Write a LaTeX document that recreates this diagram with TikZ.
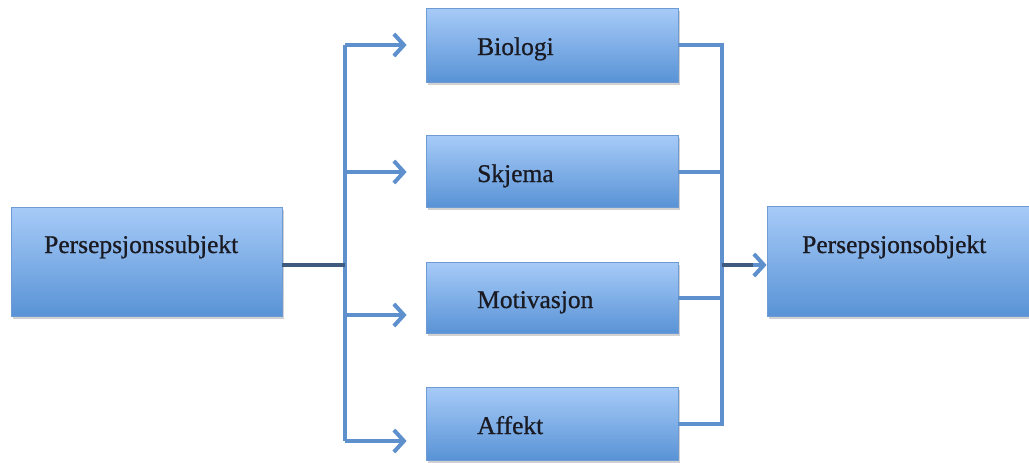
\documentclass[tikz,border=0pt]{standalone}
\usepackage{fontspec}
\setmainfont{Liberation Serif}
\newfontfamily\lblfont{Liberation Serif}[FakeBold=0.8]
\usetikzlibrary{arrows.meta,shadows,calc}
\definecolor{boxtop}{HTML}{A7CBF8}
\definecolor{boxbot}{HTML}{5993D6}
\definecolor{boxline}{HTML}{6E9BD4}
\definecolor{conncol}{HTML}{5E90CE}
\definecolor{darkconn}{HTML}{3E5A7E}
\definecolor{txtcol}{HTML}{1A1A22}
\tikzset{
  pbox/.style={draw=boxline, line width=0.8pt, top color=boxtop, bottom color=boxbot,
    rectangle, inner sep=0pt,
    drop shadow={shadow xshift=1.5pt, shadow yshift=-2.5pt, opacity=0.3, fill=black!60}},
  lbl/.style={anchor=base west, inner sep=0pt, text=txtcol,
    font=\lblfont\fontsize{25.5}{28}\selectfont},
  conn/.style={draw=conncol, line width=4pt},
  arr/.style={conn, -{Straight Barb[length=10pt,width=22pt,line width=4pt]}},
  darkline/.style={draw=darkconn, line width=4.5pt}
}
\begin{document}
\begin{tikzpicture}[x=1pt,y=-1pt]
\useasboundingbox (0,0) rectangle (1029,463);
% boxes
\node[pbox, minimum width=271pt, minimum height=109pt] (subj) at (146.5,261.5) {};
\node[pbox, minimum width=272pt, minimum height=110pt] (obj) at (903,261) {};
\node[pbox, minimum width=252pt, minimum height=74pt] (bio) at (552,45) {};
\node[pbox, minimum width=252pt, minimum height=72pt] (skj) at (552,171) {};
\node[pbox, minimum width=252pt, minimum height=71pt] (mot) at (552,297.5) {};
\node[pbox, minimum width=252pt, minimum height=73pt] (aff) at (552,423.5) {};
% labels
\node[lbl] (subj-t) at (44,253) {Persepsjonssubjekt};
\node[lbl] (obj-t) at (802,253) {Persepsjonsobjekt};
\node[lbl] (bio-t) at (477,55) {Biologi};
\node[lbl] (skj-t) at (477,182) {Skjema};
\node[lbl] (mot-t) at (477,308) {Motivasjon};
\node[lbl] (aff-t) at (477,434) {Affekt};
% bus coordinates
\coordinate (lbus) at (345,265);
\coordinate (rbus) at (722,265);
\coordinate (bioin) at ($(bio.west)+(0,0)$);
\coordinate (skjin) at ($(skj.west)+(0,1)$);
\coordinate (motin) at ($(mot.west)+(0,17.5)$);
\coordinate (affin) at ($(aff.west)+(0,17.5)$);
\coordinate (bioout) at ($(bio.east)+(0,0)$);
\coordinate (skjout) at ($(skj.east)+(0,1)$);
\coordinate (motout) at ($(mot.east)+(0,0)$);
\coordinate (affout) at ($(aff.east)+(0,0.5)$);
% left side
\draw[conn] (lbus |- bioin) -- (lbus |- affin);
\draw[darkline] (subj.east |- lbus) -- (lbus);
\draw[arr, shorten >=19pt] (lbus |- bioin) -- (bioin);
\draw[arr, shorten >=19pt] (lbus |- skjin) -- (skjin);
\draw[arr, shorten >=19pt] (lbus |- motin) -- (motin);
\draw[arr, shorten >=19pt] (lbus |- affin) -- (affin);
% right side
\draw[conn] (bioout) -- (rbus |- bioout) -- (rbus |- affout) -- (affout);
\draw[conn] (skjout) -- (rbus |- skjout);
\draw[conn] (motout) -- (rbus |- motout);
\draw[darkline] (rbus) -- ($(obj.west |- rbus)+(-12,0)$);
\draw[arr] ($(obj.west |- rbus)+(-14,0)$) -- (obj.west |- rbus);
\end{tikzpicture}
\end{document}
